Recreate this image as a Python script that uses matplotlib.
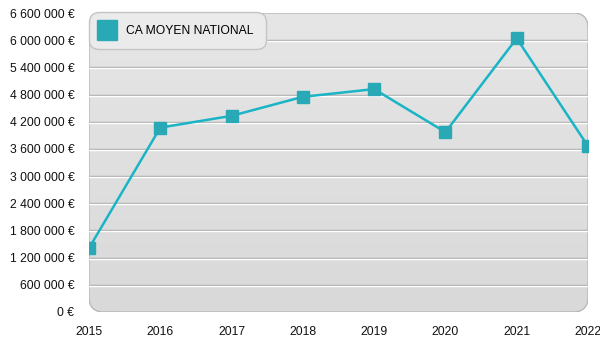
import numpy as np
import matplotlib.pyplot as plt
from matplotlib.patches import FancyBboxPatch
from matplotlib.ticker import FuncFormatter
from matplotlib.colors import LinearSegmentedColormap
import matplotlib.transforms as mtransforms

plt.rcParams['font.family'] = ['Liberation Sans', 'DejaVu Sans']

years = [2015, 2016, 2017, 2018, 2019, 2020, 2021, 2022]
ca_moyen = [1410000, 4070000, 4330000, 4750000, 4920000, 3970000, 6040000, 3660000]
y_ticks = np.arange(0, 6600001, 600000)

def euro(v, pos):
    return '{:,.0f} €'.format(v).replace(',', ' ')

fig = plt.figure(figsize=(6, 3.5), dpi=100)
ax = fig.add_axes([89 / 600, 38 / 350, 499 / 600, 299 / 350])
ax.set_xlim(years[0], years[-1])
ax.set_ylim(0, 6600000)
ax.patch.set_visible(False)

# rounded grey background with a soft vertical gradient
bg = FancyBboxPatch((0, 0), 1, 1, boxstyle='round,pad=0,rounding_size=0.03',
                    transform=ax.transAxes, facecolor='none', edgecolor='none',
                    mutation_aspect=499 / 299, zorder=0)
ax.add_patch(bg)
grad = np.linspace(0, 1, 256).reshape(-1, 1)
img = ax.imshow(grad, cmap=LinearSegmentedColormap.from_list('g', ['#d9d9d9', '#e6e6e6']),
                extent=[0, 1, 0, 1], transform=ax.transAxes,
                aspect='auto', origin='lower', zorder=0)
img.set_clip_path(bg)
shadow = FancyBboxPatch((0, 0), 1, 1, boxstyle='round,pad=0,rounding_size=0.03',
                        transform=ax.transAxes, facecolor='none', edgecolor='#b8b8b8',
                        lw=1.0, mutation_aspect=499 / 299, zorder=0.5)
ax.add_patch(shadow)

# embossed grid lines
down = mtransforms.ScaledTranslation(0, -1 / 100, fig.dpi_scale_trans)
for v in y_ticks[1:-1]:
    ax.plot([0, 1], [v, v], color='#a9a9a9', lw=1, zorder=1,
            transform=ax.get_yaxis_transform())
    ax.plot([0, 1], [v, v], color='white', lw=1, zorder=1,
            transform=ax.get_yaxis_transform() + down)

ax.plot(years, ca_moyen, color='#19b4c6', lw=1.8, marker='s', markersize=8.5,
        markerfacecolor='#29a8b5', markeredgecolor='#29a8b5', zorder=3,
        label='CA MOYEN NATIONAL')

ax.set_xticks(years)
ax.set_yticks(y_ticks)
ax.yaxis.set_major_formatter(FuncFormatter(euro))
ax.tick_params(length=0, labelsize=8.7, colors='#111111')
ax.tick_params(axis='y', pad=10.5)
ax.tick_params(axis='x', pad=10)
for s in ax.spines.values():
    s.set_visible(False)

leg = ax.legend(loc='upper left', bbox_to_anchor=(0, 1.003), borderaxespad=0,
                fontsize=8.7, handlelength=0.9, handletextpad=1.1, markerscale=1.7,
                borderpad=1.05, fancybox=True,
                facecolor='#ebebeb', edgecolor='#c4c4c4', framealpha=1)
leg.get_lines()[0].set_linestyle('none')
leg.get_frame().set_boxstyle('round,pad=0,rounding_size=0.8')

fig.savefig('out.png', dpi=100)
